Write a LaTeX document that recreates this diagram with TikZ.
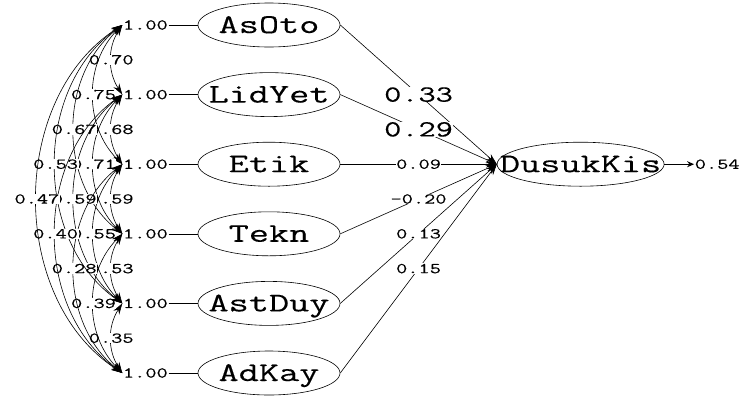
\documentclass[tikz,border=0pt]{standalone}
\usepackage{fontspec}
\usepackage{tikz}
\usetikzlibrary{shapes.geometric, arrows.meta}
\newfontfamily\lisfont[FakeStretch=1.45, FakeBold=0.3]{Latin Modern Mono}
\tikzstyle{latent} = [ellipse, draw=black, line width=0.6pt, minimum width=142pt,
minimum height=44pt, inner xsep=-40pt, inner ysep=0pt, text height=16pt,
text depth=0pt, font=\lisfont\fontsize{27}{27}\selectfont]
\tikzstyle{varlbl} = [inner sep=0.5pt, font=\lisfont\fontsize{15}{15}\selectfont]
\tikzstyle{coef} = [fill=white, inner sep=0.5pt,
font=\lisfont\fontsize{15}{15}\selectfont]
\tikzstyle{bigcoef} = [fill=white, inner sep=0.5pt,
font=\lisfont\fontsize{23}{23}\selectfont]
\tikzstyle{effect} = [line width=0.6pt, -{Stealth[length=11pt, width=7pt]}]
\tikzstyle{cov} = [line width=0.6pt,
{Stealth[length=11pt, width=7pt]}-{Stealth[length=11pt, width=7pt]}]

\begin{document}
\begin{tikzpicture}[node distance=69.6pt]
\useasboundingbox (0,0) rectangle (743pt,-397pt);

% latent variables
\node(asOto)[latent] at (269pt,-25pt){AsOto};
\node(lidYet)[latent, below of=asOto]{LidYet};
\node(etik)[latent, below of=lidYet]{Etik};
\node(tekn)[latent, below of=etik]{Tekn};
\node(astDuy)[latent, below of=tekn]{AstDuy};
\node(adKay)[latent, below of=astDuy]{AdKay};
\node(dusukKis)[latent, right of=etik, xshift=242pt, minimum width=167pt]{DusukKis};

% variances
\node(varAsOto)[varlbl, left of=asOto, xshift=-54pt]{1.00};
\node(varLidYet)[varlbl, left of=lidYet, xshift=-54pt]{1.00};
\node(varEtik)[varlbl, left of=etik, xshift=-54pt]{1.00};
\node(varTekn)[varlbl, left of=tekn, xshift=-54pt]{1.00};
\node(varAstDuy)[varlbl, left of=astDuy, xshift=-54pt]{1.00};
\node(varAdKay)[varlbl, left of=adKay, xshift=-54pt]{1.00};
\node(err)[varlbl, right of=dusukKis, xshift=67pt]{0.54};

\draw[line width=0.6pt](varAsOto) -- (asOto);
\draw[line width=0.6pt](varLidYet) -- (lidYet);
\draw[line width=0.6pt](varEtik) -- (etik);
\draw[line width=0.6pt](varTekn) -- (tekn);
\draw[line width=0.6pt](varAstDuy) -- (astDuy);
\draw[line width=0.6pt](varAdKay) -- (adKay);
\draw[line width=1pt, -{Stealth[length=7pt, width=6pt]}](dusukKis) -- (err);

% covariances
\draw[cov](varAsOto.west) to[bend right=33] node[coef]{0.70} (varLidYet.west);
\draw[cov](varLidYet.west) to[bend right=33] node[coef]{0.68} (varEtik.west);
\draw[cov](varEtik.west) to[bend right=33] node[coef]{0.59} (varTekn.west);
\draw[cov](varTekn.west) to[bend right=33] node[coef]{0.53} (varAstDuy.west);
\draw[cov](varAstDuy.west) to[bend right=33] node[coef]{0.35} (varAdKay.west);
\draw[cov](varAsOto.west) to[bend right=45] node[coef]{0.75} (varEtik.west);
\draw[cov](varLidYet.west) to[bend right=45] node[coef]{0.71} (varTekn.west);
\draw[cov](varEtik.west) to[bend right=45] node[coef]{0.55} (varAstDuy.west);
\draw[cov](varTekn.west) to[bend right=45] node[coef]{0.39} (varAdKay.west);
\draw[cov](varAsOto.west) to[bend right=52] node[coef]{0.67} (varTekn.west);
\draw[cov](varLidYet.west) to[bend right=52] node[coef]{0.59} (varAstDuy.west);
\draw[cov](varEtik.west) to[bend right=52] node[coef]{0.28} (varAdKay.west);
\draw[cov](varAsOto.west) to[bend right=55] node[coef]{0.53} (varAstDuy.west);
\draw[cov](varLidYet.west) to[bend right=55] node[coef]{0.40} (varAdKay.west);
\draw[cov](varAsOto.west) to[bend right=57] node[coef]{0.47} (varAdKay.west);

% effects on DusukKis
\draw[effect](asOto.east) -- node[bigcoef]{0.33} (dusukKis.west);
\draw[effect](lidYet.east) -- node[bigcoef]{0.29} (dusukKis.west);
\draw[effect](etik.east) -- node[coef]{0.09} (dusukKis.west);
\draw[effect](tekn.east) -- node[coef]{-0.20} (dusukKis.west);
\draw[effect](astDuy.east) -- node[coef]{0.13} (dusukKis.west);
\draw[effect](adKay.east) -- node[coef]{0.15} (dusukKis.west);

\end{tikzpicture}
\end{document}
